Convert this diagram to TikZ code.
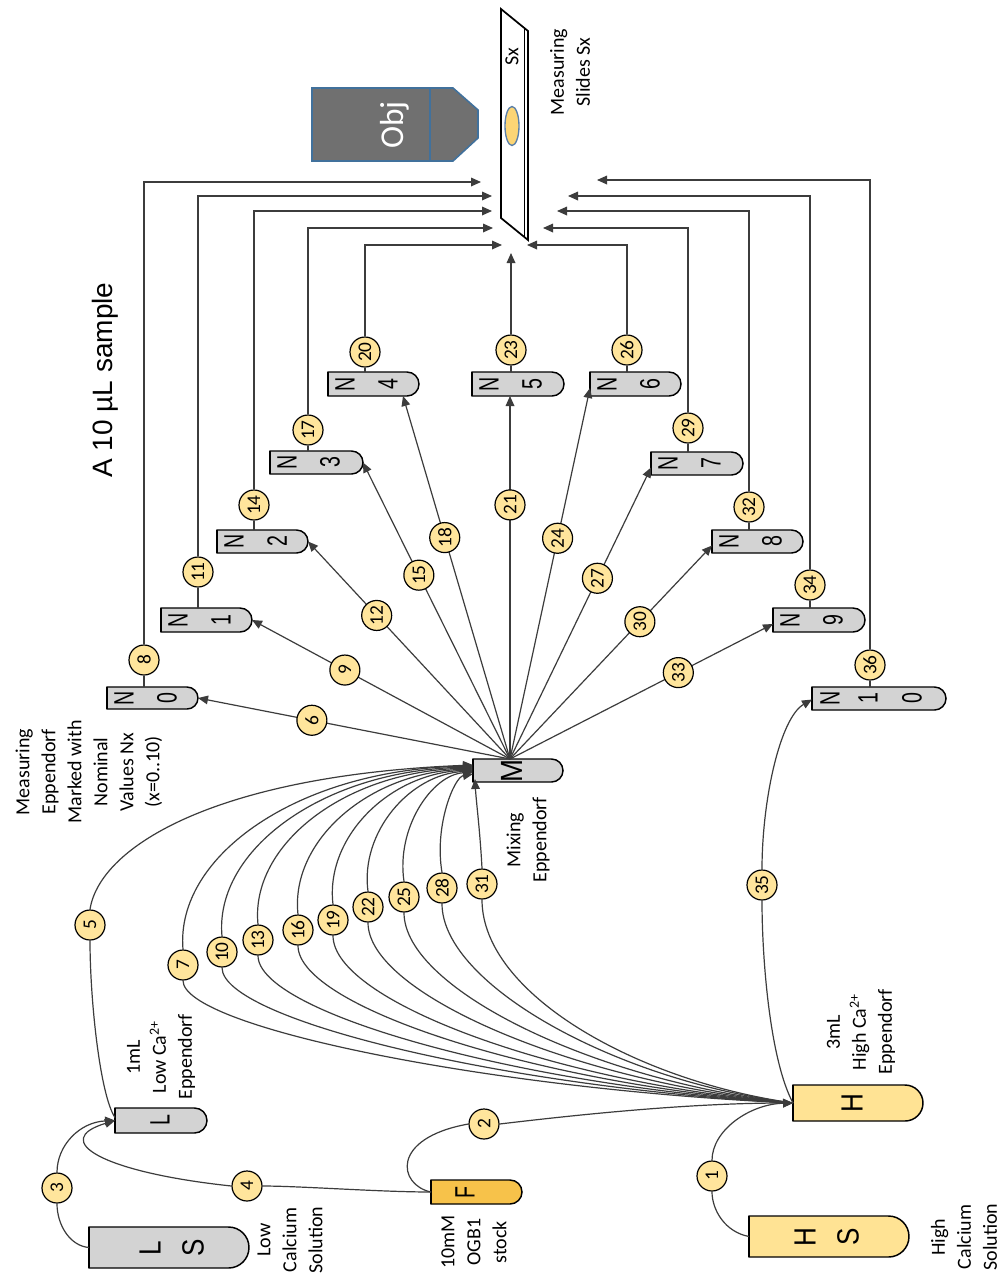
\documentclass[tikz,border=0pt]{standalone}
\usepackage{graphicx}
\usepackage{fontspec}
\setmainfont{Carlito}
\newfontfamily\arialf{Liberation Sans}
\usetikzlibrary{arrows.meta,calc}
\definecolor{tubegray}{HTML}{D3D3D3}
\definecolor{paleyel}{HTML}{FFE394}
\definecolor{fyel}{HTML}{F7C24A}
\definecolor{circyel}{HTML}{FFE59C}
\definecolor{linec}{HTML}{3C3C3C}
\definecolor{objgray}{HTML}{707070}
\definecolor{objblue}{HTML}{41719C}
\definecolor{ellfill}{HTML}{FCD575}
\definecolor{ellline}{HTML}{5A7FA8}
\newcommand\sq[1]{\scalebox{0.7}[1]{#1}}
\newcommand\sqb[1]{\scalebox{0.85}[1]{#1}}
\newcommand\mytube[6]{%
  \node[tubebase, minimum width={(#4-#2)*0.75pt}, minimum height={(#5-#3)*0.75pt}] (#1) at ({(#2+#4)/2},{-(#3+#5)/2}) {};
  \pgfmathsetmacro\tuber{(#5-#3)*0.375}
  \draw[tubeline, fill=#6] (#1.north west) -- ([xshift=-\tuber pt]#1.north east) arc[start angle=90,end angle=-90,radius=\tuber pt] -- (#1.south west) -- cycle;
  \draw[line width=2pt] (#1.north west) -- (#1.south west);
}
\begin{document}
\begin{tikzpicture}[x=0.75pt,y=0.75pt,
 conn/.style={draw=linec, line width=0.9pt},
 arr/.style={conn, -{Triangle[length=7.5pt,width=6.5pt]}},
 numc/.style={circle, draw=black, line width=0.9pt, fill=circyel, minimum size=22.5pt, inner sep=0pt, font=\fontsize{14.5}{14.5}\selectfont},
 tubebase/.style={rectangle, inner sep=0pt, outer sep=0pt},
 tubeline/.style={draw=black, line width=1.1pt},
 tl/.style={font=\arialf\fontsize{21}{21}\selectfont, rotate=90, inner sep=0pt},
 tlb/.style={font=\arialf\fontsize{23}{23}\selectfont, rotate=90, inner sep=0pt},
 desc/.style={font=\fontsize{15}{19.5}\selectfont, rotate=90, align=center, inner sep=0pt},
]
\fill[white] (0,0) rectangle (1005,-1282);
\useasboundingbox (0,0) rectangle (1005,-1282);

% ---------- objective and slide ----------
\fill[objgray] (312,-88) rectangle (430,-161);
\fill[objgray] (430,-88) -- (453,-88) -- (478,-110) -- (478,-138) -- (453,-161) -- (430,-161) -- cycle;
\draw[objblue, line width=1.2pt] (312,-88) rectangle (430,-161);
\draw[objblue, line width=1.2pt] (430,-88) -- (453,-88) -- (478,-110) -- (478,-138) -- (453,-161) -- (430,-161);
\node[rotate=90, text=white, font=\fontsize{25}{25}\selectfont] (tObj) at (395,-125) {Obj};

\draw[line width=1.3pt, fill=white] (501,-9) -- (528,-31) -- (528,-240) -- (501,-218) -- cycle;
\draw[line width=1pt] (524.5,-28) -- (524.5,-237);
\draw[draw=ellline, fill=ellfill, line width=1pt] (512,-126) ellipse [x radius=7, y radius=19.5];
\node[rotate=90, font=\fontsize{15}{15}\selectfont] (tSx) at (512,-57) {Sx};

% ---------- tubes ----------
\mytube{LS}{89}{1227}{249}{1268}{tubegray}
\mytube{HS}{749}{1216}{909}{1257}{paleyel}
\mytube{H}{793}{1085}{923}{1121}{paleyel}
\mytube{F}{431}{1180}{522}{1204}{fyel}
\mytube{L}{115}{1108}{207}{1133}{tubegray}
\mytube{M}{473}{759}{563}{782}{tubegray}
\mytube{N0}{107}{687}{198}{709}{tubegray}
\mytube{N1}{161}{608}{252}{632}{tubegray}
\mytube{N2}{217}{530}{308}{553}{tubegray}
\mytube{N3}{270}{451}{363}{474}{tubegray}
\mytube{N4}{328}{372}{419}{396}{tubegray}
\mytube{N5}{472}{372}{564}{396}{tubegray}
\mytube{N6}{590}{372}{681}{396}{tubegray}
\mytube{N7}{651}{452}{743}{475}{tubegray}
\mytube{N8}{712}{530}{803}{553}{tubegray}
\mytube{N9}{773}{608}{865}{632}{tubegray}
\mytube{N10}{812}{687}{946}{710}{tubegray}

% tube letters
\node[tlb] (LSa) at (150,-1248) {\sqb{L}};
\node[tlb] (LSb) at (193,-1248) {\sqb{S}};
\node[tlb] (HSa) at (805,-1237) {\sqb{H}};
\node[tlb] (HSb) at (848,-1237) {\sqb{S}};
\node[tlb] (Ha) at (852,-1103) {\sqb{H}};
\node[tl] (Fa) at (465,-1192) {\sq{F}};
\node[tl] (La) at (160,-1120.5) {\sq{L}};
\node[font=\arialf\fontsize{23}{23}\selectfont, rotate=90, inner sep=0pt] (Ma) at (512,-770.5) {\scalebox{0.9}[1]{M}};
\foreach \n/\d in {0/0,1/1,2/2,3/3,4/4,5/5,6/6,7/7,8/8,9/9}{
  \node[tl] (N\n a) at ($(N\n.west)+(17,0)$) {\sq{N}};
  \node[tl] (N\n b) at ($(N\n.west)+(60,0)$) {\sq{\d}};
}
\node[tl] (N10a) at ($(N10.west)+(18,0)$) {\sq{N}};
\node[tl] (N10b) at ($(N10.west)+(56,0)$) {\sq{1}};
\node[tl] (N10c) at ($(N10.west)+(100,0)$) {\sq{0}};

% ---------- texts ----------
\node[desc] (tSlides) at (570,-72) {Measuring\\Slides Sx};
\node[font=\arialf\fontsize{21}{21}\selectfont, rotate=90, inner sep=0pt] (tSample) at (105,-380) {A 10 µL sample};
\node[desc] (tMeas) at (89,-772) {Measuring\\Eppendorf\\Marked with\\Nominal\\Values Nx\\(x=0..10)};
\node[desc] (tMix) at (528,-840) {Mixing\\Eppendorf};
\node[desc] (tLow1) at (161,-1057) {1mL\\Low Ca\textsuperscript{2+}\\Eppendorf};
\node[desc] (tHigh3) at (861,-1032) {3mL\\High Ca\textsuperscript{2+}\\Eppendorf};
\node[desc] (tLCS) at (290,-1240) {Low\\Calcium\\Solution};
\node[desc] (tOGB) at (474,-1242) {10mM\\OGB1\\stock};
\node[desc] (tHCS) at (964,-1237) {High\\Calcium\\Solution};

% ---------- slide targets ----------
\coordinate (s0) at (481,-182);
\coordinate (s1) at (492,-196);
\coordinate (s2) at (492,-211);
\coordinate (s3) at (493,-228);
\coordinate (s4) at (502,-245);
\coordinate (s5) at (511,-253);
\coordinate (s6) at (527,-245);
\coordinate (s7) at (543,-228);
\coordinate (s8) at (557,-211);
\coordinate (s9) at (568,-196);
\coordinate (s10) at (597,-180);

% ---------- label circles (not on straight fan) ----------
\node[numc] (l1) at (712,-1176) {\rotatebox{90}{1}};
\node[numc] (l2) at (484,-1124) {\rotatebox{90}{2}};
\node[numc] (l3) at (57,-1188) {\rotatebox{90}{3}};
\node[numc] (l4) at (247,-1186) {\rotatebox{90}{4}};
\node[numc] (l5) at (90,-925) {\rotatebox{90}{5}};
\node[numc] (l31) at (482,-884) {\rotatebox{90}{31}};
\node[numc] (l35) at (762,-885) {\rotatebox{90}{35}};
\node[numc] (l8) at (144,-660) {\rotatebox{90}{8}};
\node[numc] (l11) at (198,-572) {\rotatebox{90}{11}};
\node[numc] (l14) at (254,-505) {\rotatebox{90}{14}};
\node[numc] (l17) at (308,-430) {\rotatebox{90}{17}};
\node[numc] (l20) at (365,-352) {\rotatebox{90}{20}};
\node[numc] (l23) at (511,-350) {\rotatebox{90}{23}};
\node[numc] (l26) at (627,-350) {\rotatebox{90}{26}};
\node[numc] (l29) at (688,-428) {\rotatebox{90}{29}};
\node[numc] (l32) at (749,-507) {\rotatebox{90}{32}};
\node[numc] (l34) at (810,-585) {\rotatebox{90}{34}};
\node[numc] (l36) at (870,-665) {\rotatebox{90}{36}};

% ---------- sources ----------
\draw[conn] (HS.west) .. controls (725,-1232) and (712,-1210) .. (l1.south);
\draw[arr] (l1.north) .. controls (712,-1130) and (750,-1104) .. (H.west);
\draw[conn] (F.west) .. controls (398,-1185) and (390,-1138) .. (l2.west);
\draw[arr] (l2.east) .. controls (600,-1112) and (700,-1103) .. (H.west);
\draw[conn] (LS.west) .. controls (70,-1246) and (57,-1225) .. (l3.south);
\draw[arr] (l3.north) .. controls (57,-1145) and (80,-1122) .. (L.west);
\draw[conn] (F.west) .. controls (380,-1192) and (300,-1186) .. (l4.east);
\draw[arr] (l4.west) .. controls (100,-1172) and (50,-1140) .. (L.west);
\draw[conn] ($(L.west)+(0,3)$) .. controls (100,-1095) and (90,-1000) .. (l5.south);
\draw[arr] (l5.north) .. controls (100,-845) and (220,-775) .. ($(M.west)+(0,5.5)$);

% ---------- H to M curves ----------
\foreach \k/\cx/\cy/\ym in {7/183/965/766, 10/222/952/767, 13/258/940/768, 16/298/930/769, 19/333/920/770, 22/368/907/771, 25/404/897/772, 28/442/888/774}{
  \node[numc] (l\k) at (\cx,-\cy) {\rotatebox{90}{\k}};
  \draw[conn] (H.west) .. controls ({\cx+0.5*(793-\cx)},{-(1103-0.1*(1103-\cy))}) and ({\cx},{-(\cy+0.45*(1103-\cy))}) .. (l\k.south);
  \draw[arr] (l\k.north) .. controls ({\cx-8},{-(\cy-0.55*(\cy-\ym))}) and ({\cx+0.4*(473-\cx)},{-\ym-3}) .. ($(M.west)+(0,{770.5-\ym})$);
}
\draw[conn] (H.west) .. controls (637,-1081) and (482,-994) .. (l31.south);
\draw[arr] (l31.north) .. controls (480,-830) and (476,-800) .. ($(M.south west)+(2,3)$);
\draw[conn] (H.west) .. controls (770,-1060) and (762,-960) .. (l35.south);
\draw[arr] (l35.north) .. controls (762,-800) and (780,-718) .. ($(N10.west)+(0,-1)$);

% ---------- fan from M ----------
\coordinate (fan) at ($(M.north west)+(37,0)$);
\draw[arr] (fan) -- (N0.east) node[numc, pos=0.635] (l6) {\rotatebox{90}{6}};
\draw[arr] (fan) -- (N1.east) node[numc, pos=0.64] (l9) {\rotatebox{90}{9}};
\draw[arr] (fan) -- (N2.east) node[numc, pos=0.66] (l12) {\rotatebox{90}{12}};
\draw[arr] (fan) -- (N3.east) node[numc, pos=0.62] (l15) {\rotatebox{90}{15}};
\draw[arr] (fan) -- ($(N4.south east)+(-16,0)$) node[numc, pos=0.61] (l18) {\rotatebox{90}{18}};
\draw[arr] (fan) -- ($(N5.south west)+(38,0)$) node[numc, pos=0.70] (l21) {\rotatebox{90}{21}};
\draw[arr] (fan) -- ($(N6.west)+(0,-4)$) node[numc, pos=0.595] (l24) {\rotatebox{90}{24}};
\draw[arr] (fan) -- ($(N7.west)+(0,-4)$) node[numc, pos=0.62] (l27) {\rotatebox{90}{27}};
\draw[arr] (fan) -- ($(N8.west)+(0,-4)$) node[numc, pos=0.643] (l30) {\rotatebox{90}{30}};
\draw[arr] (fan) -- ($(N9.west)+(0,-4)$) node[numc, pos=0.64] (l33) {\rotatebox{90}{33}};

% ---------- measuring tubes to slide ----------
\draw[arr] ($(N0.north west)+(37,0)$) -- (l8) |- (s0);
\draw[arr] ($(N1.north west)+(37,0)$) -- (l11) |- (s1);
\draw[arr] ($(N2.north west)+(37,0)$) -- (l14) |- (s2);
\draw[arr] ($(N3.north west)+(38,0)$) -- (l17) |- (s3);
\draw[arr] ($(N4.north west)+(37,0)$) -- (l20) |- (s4);
\draw[arr] ($(N5.north west)+(39,0)$) -- (l23) -- (s5);
\draw[arr] ($(N6.north west)+(37,0)$) -- (l26) |- (s6);
\draw[arr] ($(N7.north west)+(37,0)$) -- (l29) |- (s7);
\draw[arr] ($(N8.north west)+(37,0)$) -- (l32) |- (s8);
\draw[arr] ($(N9.north west)+(37,0)$) -- (l34) |- (s9);
\draw[arr] ($(N10.north west)+(58,0)$) -- (l36) |- (s10);
\end{tikzpicture}
\end{document}
